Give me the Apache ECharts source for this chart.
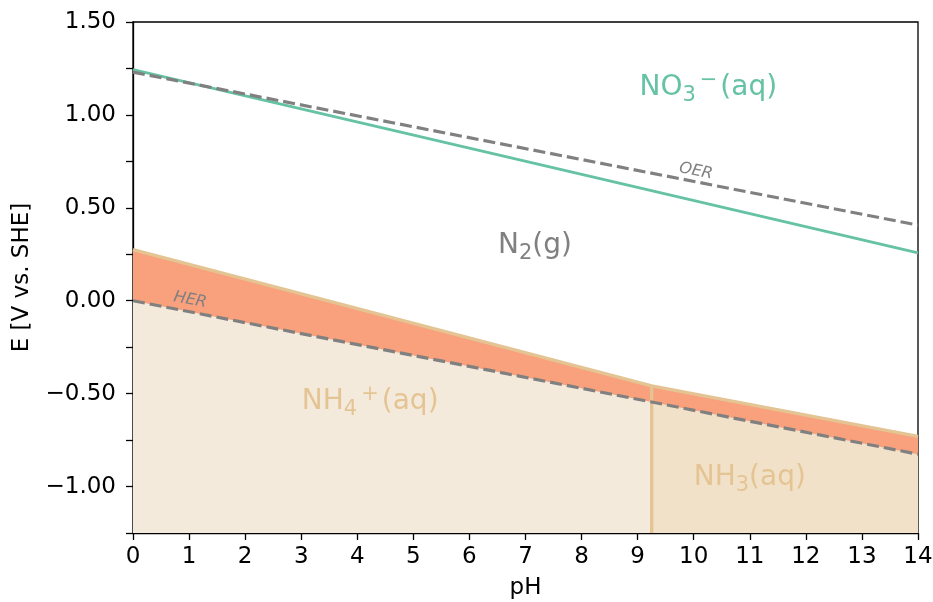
<!DOCTYPE html>
<html>
<head>
<meta charset="utf-8">
<script src="https://cdn.jsdelivr.net/npm/echarts@6/dist/echarts.min.js"></script>
<style>
  html, body { margin: 0; padding: 0; background: #fff; }
  #chart { width: 933px; height: 602px; }
</style>
</head>
<body>
<div id="chart"></div>
<script>
// water stability lines (pH 0 and 14)
const waterPh = [0, 14]
const oerE = [1.23, 0.407]
const herPh = [0, 9.25, 14]
const herE = [0, -0.545, -0.826]

// NO3- / N2 boundary
const no3E = [1.244, 0.258]

// N2 / NH4+ and N2 / NH3 boundary
const n2Ph = [0, 9.25, 14]
const n2E = [0.275, -0.458, -0.73]

// NH4+ / NH3 (pKa)
const pkaPh = [9.25, 9.25]
const pkaE = [-1.25, -0.458]

const xTicks = [0, 1, 2, 3, 4, 5, 6, 7, 8, 9, 10, 11, 12, 13, 14]

const zip = (xs, ys) => xs.map((x, i) => [x, ys[i]])
const font = 'DejaVu Sans'
const tan = '#e5c494'

const fmtE = v => {
  if (Math.abs(v * 2 - Math.round(v * 2)) > 1e-6) return ''
  return v.toFixed(2).replace('-', '\u2212')
}

const areaSeries = (data, color) => ({
  type: 'line',
  data,
  showSymbol: false,
  silent: true,
  lineStyle: { width: 0 },
  areaStyle: { color, opacity: 1, origin: 'start' }
})

const lineSeries = (data, color, width, type) => ({
  type: 'line',
  data,
  showSymbol: false,
  silent: true,
  lineStyle: { color, width, type: type || 'solid', cap: 'butt' }
})

const richLabel = {
  b: { fontSize: 28, fontFamily: font, lineHeight: 36, verticalAlign: 'middle' },
  s: { fontSize: 21, fontFamily: font, lineHeight: 22, verticalAlign: 'bottom' },
  p: { fontSize: 21, fontFamily: font, lineHeight: 22, verticalAlign: 'top', padding: [0, 3, 0, 4] }
}

const textItem = (x, y, text, color) => ({
  value: [x, y],
  label: {
    show: true,
    position: 'inside',
    formatter: text,
    color,
    rich: Object.fromEntries(Object.entries(richLabel).map(([k, v]) => [k, { ...v, color }]))
  }
})

const lineTag = (x, y, text) => ({
  value: [x, y],
  label: {
    show: true,
    position: 'inside',
    formatter: text,
    color: '#808080',
    fontSize: 16,
    fontStyle: 'italic',
    fontFamily: font,
    rotate: -11
  }
})

const axisText = { color: '#000', fontSize: 23, fontFamily: font }

const chart = echarts.init(document.getElementById('chart'))

chart.setOption({
  animation: false,
  grid: {
    left: 133, right: 15, top: 22, bottom: 69,
    outerBoundsMode: 'none',
    show: true, borderColor: '#000', borderWidth: 1.3, backgroundColor: 'transparent'
  },
  xAxis: {
    type: 'value',
    min: 0, max: 14, interval: 1,
    name: 'pH',
    nameLocation: 'middle',
    nameGap: 44,
    nameTextStyle: axisText,
    axisLine: { show: true, onZero: false, lineStyle: { color: '#000', width: 1.3 } },
    axisTick: { show: true, length: 7, lineStyle: { color: '#000', width: 1.3 } },
    axisLabel: { ...axisText, margin: 13,
      formatter: v => xTicks.includes(v) ? String(v) : '' },
    splitLine: { show: false }
  },
  yAxis: {
    type: 'value',
    min: -1.25, max: 1.5, interval: 0.25,
    name: 'E [V vs. SHE]',
    nameLocation: 'middle',
    nameGap: 99,
    nameTextStyle: axisText,
    axisLine: { show: true, onZero: false, lineStyle: { color: '#000', width: 1.3 } },
    axisTick: { show: true, length: 7, lineStyle: { color: '#000', width: 1.3 } },
    axisLabel: { ...axisText, margin: 17, formatter: fmtE },
    splitLine: { show: false }
  },
  series: [
    areaSeries(zip(n2Ph, n2E), '#f9a07c'),
    areaSeries(zip(herPh.slice(0, 2), herE.slice(0, 2)), '#f3eadc'),
    areaSeries(zip(herPh.slice(1), herE.slice(1)), '#f0e1c8'),
    lineSeries(zip(n2Ph, n2E), tan, 3.3),
    lineSeries(zip(pkaPh, pkaE), tan, 3.3),
    lineSeries(zip(waterPh, no3E), '#66c2a5', 2.8),
    lineSeries(zip(herPh, herE), '#808080', 3.2, [12, 5]),
    lineSeries(zip(waterPh, oerE), '#808080', 3.2, [12, 5]),
    {
      type: 'scatter',
      z: 10,
      symbolSize: 0,
      silent: true,
      itemStyle: { opacity: 1 },
      data: [
        textItem(10.26, 1.144, '{b|NO}{s|3}{p|\u2212}{b|(aq)}', '#66c2a5'),
        textItem(7.17, 0.294, '{b|N}{s|2}{b|(g)}', '#808080'),
        textItem(4.23, -0.545, '{b|NH}{s|4}{p|+}{b|(aq)}', tan),
        textItem(11.0, -0.953, '{b|NH}{s|3}{b|(aq)}', tan),
        lineTag(10.04, 0.697, 'OER'),
        lineTag(1.02, 0.004, 'HER')
      ]
    }
  ]
})
</script>
</body>
</html>
